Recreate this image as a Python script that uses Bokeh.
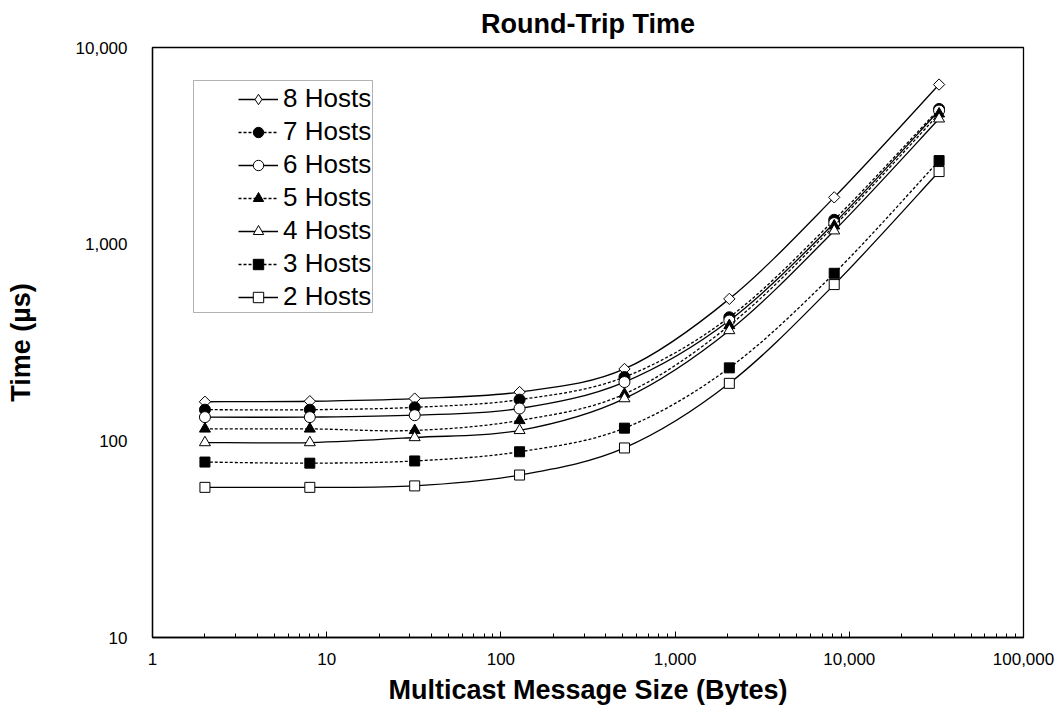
import numpy as np
from bokeh.plotting import figure
from bokeh.models import (Range1d, NumeralTickFormatter, FixedTicker, Legend, LegendItem,
                          BoxAnnotation, ColumnDataSource)
from bokeh.embed import file_html
from bokeh.resources import INLINE

# ---------------- data ----------------
sizes = [2, 8, 32, 128, 512, 2048, 8192, 32768]
hosts_8 = [158, 159, 164, 177, 232, 527, 1730, 6480]
hosts_7 = [144, 144, 148, 162, 211, 425, 1330, 4870]
hosts_6 = [132, 132, 135, 146, 199, 409, 1280, 4780]
hosts_5 = [115, 115, 113, 127, 173, 386, 1240, 4600]
hosts_4 = [98, 98, 104, 113, 164, 364, 1170, 4340]
hosts_3 = [78, 77, 79, 88, 116, 235, 711, 2660]
hosts_2 = [58, 58, 59, 67, 92, 196, 623, 2340]
labels = ["8 Hosts", "7 Hosts", "6 Hosts", "5 Hosts", "4 Hosts", "3 Hosts", "2 Hosts"]
x_ticks = [1, 10, 100, 1000, 10000, 100000]
y_ticks = [10, 100, 1000, 10000]

series = [hosts_8, hosts_7, hosts_6, hosts_5, hosts_4, hosts_3, hosts_2]
styles = [
    dict(marker="square", legend_marker="diamond", angle=np.pi / 4, size=8, fill="white", dash="solid"),
    dict(marker="circle", legend_marker="circle", angle=0, size=11, fill="black", dash="3 2"),
    dict(marker="circle", legend_marker="circle", angle=0, size=11, fill="white", dash="solid"),
    dict(marker="triangle", legend_marker="triangle", angle=0, size=11, fill="black", dash="3 2"),
    dict(marker="triangle", legend_marker="triangle", angle=0, size=11, fill="white", dash="solid"),
    dict(marker="square", legend_marker="square", angle=0, size=10, fill="black", dash="3 2"),
    dict(marker="square", legend_marker="square", angle=0, size=10, fill="white", dash="solid"),
]

FONT = "Liberation Sans"
X0, X1, Y0, Y1 = 1, 100000, 10, 10000
FW, FH = 871, 590

p = figure(width=1062, height=708, x_axis_type="log", y_axis_type="log",
           x_range=Range1d(X0, X1), y_range=Range1d(Y0, Y1),
           output_backend="svg", toolbar_location=None,
           min_border_left=152, min_border_right=39, min_border_top=47, min_border_bottom=71,
           title="Round-Trip Time")
p.background_fill_color = "white"
p.border_fill_color = "white"
p.outline_line_color = "black"
p.outline_line_width = 1.3
p.grid.visible = False

p.title.align = "center"
p.title.vertical_align = "top"
p.title.text_line_height = 0.6
p.title.text_font = FONT
p.title.text_font_size = "27px"
p.title.text_font_style = "bold"
p.title.text_color = "black"
p.title.standoff = 13

# x axis
xa = p.xaxis[0]
xa.ticker = FixedTicker(ticks=x_ticks,
                        minor_ticks=[m * d for d in [1, 10, 100, 1000, 10000] for m in range(2, 10)])
xa.formatter = NumeralTickFormatter(format="0,0")
xa.major_tick_in = 6
xa.major_tick_out = 0
xa.minor_tick_in = 4
xa.minor_tick_out = 0
xa.axis_line_width = 1.3
xa.major_label_text_font = FONT
xa.major_label_text_font_size = "17px"
xa.major_label_text_color = "black"
xa.major_label_standoff = 15
xa.axis_label = "Multicast Message Size (Bytes)"
xa.axis_label_text_font = FONT
xa.axis_label_text_font_size = "27px"
xa.axis_label_text_font_style = "bold"
xa.axis_label_text_color = "black"
xa.axis_label_standoff = 7

ya = p.yaxis[0]
ya.ticker = FixedTicker(ticks=y_ticks, minor_ticks=[])
ya.formatter = NumeralTickFormatter(format="0,0")
ya.major_tick_in = 0
ya.major_tick_out = 0
ya.minor_tick_in = 0
ya.minor_tick_out = 0
ya.axis_line_width = 1.3
ya.major_label_text_font = FONT
ya.major_label_text_font_size = "17px"
ya.major_label_text_color = "black"
ya.major_label_standoff = 25
ya.axis_label = "Time (µs)"
ya.axis_label_text_font = FONT
ya.axis_label_text_font_size = "27px"
ya.axis_label_text_font_style = "bold"
ya.axis_label_text_color = "black"
ya.axis_label_standoff = 37


def bezier_source(xs, ys):
    lx = np.log10(np.array(xs, dtype=float))
    ly = np.log10(np.array(ys, dtype=float))
    n = len(lx)
    d = dict(x0=[], y0=[], x1=[], y1=[], cx0=[], cy0=[], cx1=[], cy1=[])
    for i in range(n - 1):
        a = i - 1 if i > 0 else i
        b = i + 2 if i + 2 < n else i + 1
        c0x = lx[i] + (lx[i + 1] - lx[a]) / 6
        c0y = ly[i] + (ly[i + 1] - ly[a]) / 6
        c1x = lx[i + 1] - (lx[b] - lx[i]) / 6
        c1y = ly[i + 1] - (ly[b] - ly[i]) / 6
        d["x0"].append(10 ** lx[i]); d["y0"].append(10 ** ly[i])
        d["x1"].append(10 ** lx[i + 1]); d["y1"].append(10 ** ly[i + 1])
        d["cx0"].append(10 ** c0x); d["cy0"].append(10 ** c0y)
        d["cx1"].append(10 ** c1x); d["cy1"].append(10 ** c1y)
    return ColumnDataSource(d)


items = []
for vals, st, lab in zip(series, styles, labels):
    p.bezier(x0="x0", y0="y0", x1="x1", y1="y1", cx0="cx0", cy0="cy0", cx1="cx1", cy1="cy1",
             source=bezier_source(sizes, vals), line_color="black", line_width=1.3,
             line_dash=st["dash"])
    # zero-length line: invisible in the plot, used only for the legend swatch
    lr = p.line(x=[sizes[0], sizes[0]], y=[vals[0], vals[0]], line_color="black",
                line_width=1.3, line_dash=st["dash"])
    # legend marker renderer (hidden under the real marker)
    lm = p.scatter(x=[sizes[0]], y=[vals[0]], marker=st["legend_marker"], size=7,
                   fill_color=st["fill"], line_color="black", line_width=1)
    sr = p.scatter(x=sizes, y=vals, marker=st["marker"], size=st["size"], angle=st["angle"],
                   fill_color=st["fill"], line_color="black", line_width=1)
    items.append(LegendItem(label=lab, renderers=[lr, lm]))


# legend frame box (in data units derived from the frame geometry)
def px_to_x(px):
    return 10 ** (np.log10(X0) + px / FW * (np.log10(X1) - np.log10(X0)))


def py_to_y(py):
    return 10 ** (np.log10(Y1) - py / FH * (np.log10(Y1) - np.log10(Y0)))


p.add_layout(BoxAnnotation(left=px_to_x(41), right=px_to_x(220), top=py_to_y(33), bottom=py_to_y(265),
                           fill_color="white", fill_alpha=1.0, line_color="black", line_width=1,
                           level="underlay"))

legend = Legend(items=items, location=(86, 324), orientation="vertical")
legend.padding = 0
legend.margin = 0
legend.spacing = 0
legend.glyph_width = 40
legend.glyph_height = 26
legend.label_height = 33
legend.label_standoff = 5
legend.label_text_font = FONT
legend.label_text_font_size = "26px"
legend.label_text_color = "black"
legend.border_line_alpha = 0
legend.background_fill_alpha = 0
p.add_layout(legend)

open("out.html", "w").write(file_html(p, INLINE))
